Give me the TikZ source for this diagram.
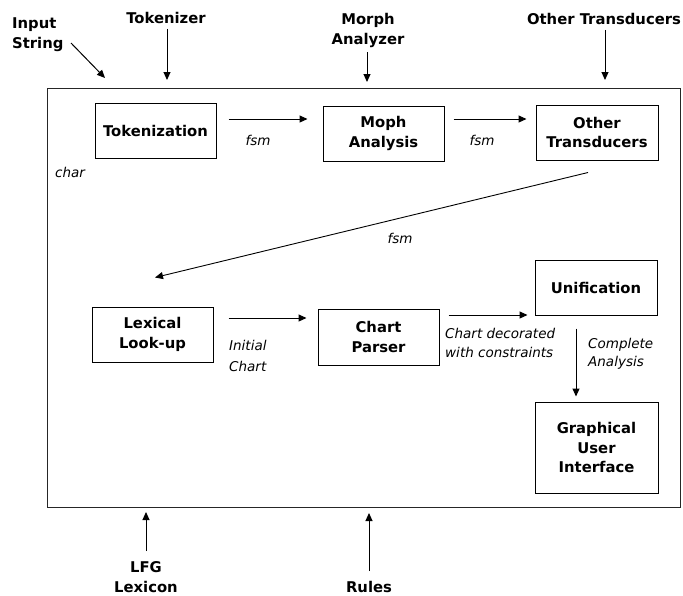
\documentclass[tikz,border=0pt]{standalone}
\usepackage{fontspec}
\setmainfont{DejaVu Sans}
\usetikzlibrary{arrows.meta}
\begin{document}
\begin{tikzpicture}[x=1pt,y=-1pt,
  box/.style={draw, line width=1pt, align=center, inner sep=0pt,
    font=\bfseries\fontsize{14.8}{19.5}\selectfont},
  lbl/.style={align=center, inner sep=0pt,
    font=\bfseries\fontsize{14.8}{20}\selectfont},
  itl/.style={align=left, inner sep=0pt,
    font=\itshape\fontsize{13.5}{19}\selectfont},
  arr/.style={line width=1pt, -{Triangle[length=8pt,width=7pt]}}]
\useasboundingbox (0,0) rectangle (683,595);
% frame
\draw[line width=0.9pt, black!85] (47,88) rectangle (680,507);
% boxes
\node[box, minimum width=121pt, minimum height=55pt] (tok) at (155.5,130.5) {Tokenization};
\node[box, minimum width=121pt, minimum height=55pt] (moph) at (383.5,133.5) {Moph\\Analysis};
\node[box, minimum width=122pt, minimum height=55pt] (oth) at (597,132.5) {Other\\Transducers};
\node[box, minimum width=121pt, minimum height=55pt] (lex) at (152.5,334.5) {Lexical\\Look-up};
\node[box, minimum width=121pt, minimum height=56pt] (chp) at (378.5,337) {Chart\\Parser};
\node[box, minimum width=122pt, minimum height=55pt] (uni) at (596,287.5) {Unification};
\node[box, minimum width=123pt, minimum height=91pt] (gui) at (596.5,447.5) {Graphical\\User\\Interface};
% internal arrows
\draw[arr, shorten <=12pt, shorten >=15pt] ([yshift=11.5pt]tok.east) -- ([yshift=11.5pt]tok.east -| moph.west);
\draw[arr, shorten <=9pt, shorten >=9pt] ([yshift=14.5pt]moph.east) -- ([yshift=14.5pt]moph.east -| oth.west);
\draw[line width=0.9pt, -{Triangle[length=8pt,width=7pt]}] ([xshift=-9pt,yshift=-12pt]oth.south) -- ([xshift=2.5pt,yshift=29pt]lex.north);
\draw[arr, shorten <=15pt, shorten >=11pt] ([yshift=16.5pt]lex.east) -- ([yshift=16.5pt]lex.east -| chp.west);
\draw[arr, shorten <=9pt, shorten >=7pt] ([yshift=22pt]chp.east) -- ([yshift=22pt]chp.east -| uni.west);
\draw[arr, shorten <=13pt, shorten >=5pt] ([xshift=-20pt]uni.south) -- ([xshift=-20pt]uni.south |- gui.north);
% internal labels
\node[itl] (f1) at (258,140) {fsm};
\node[itl] (f2) at (482,140) {fsm};
\node[itl] (f3) at (400,238) {fsm};
\node[itl] (ch) at (70,172) {char};
\node[itl, anchor=west, font=\itshape\fontsize{13.5}{21}\selectfont] (ic) at (229,356) {Initial\\Chart};
\node[itl, anchor=west] (cd) at (445,342.5) {Chart decorated\\with constraints};
\node[itl, anchor=west, font=\itshape\fontsize{13.5}{17.5}\selectfont] (ca) at (588,354) {Complete\\Analysis};
% external inputs
\node[lbl, align=left, anchor=west] (ins) at (12,35) {Input\\String};
\coordinate (ins1) at (71,43);
\coordinate (ins2) at (105,78);
\draw[arr] (ins1) -- (ins2);
\node[lbl] (tkz) at (166,18) {Tokenizer};
\coordinate (tkz2) at (167,80);
\draw[arr] (tkz.south -| tkz2) ++(0,5) -- (tkz2);
\node[lbl] (mza) at (368,30) {Morph\\Analyzer};
\coordinate (mza2) at (367,82);
\draw[arr] (mza.south -| mza2) ++(0,5) -- (mza2);
\node[lbl] (otr) at (604,19) {Other Transducers};
\coordinate (otr2) at (605,80);
\draw[arr] (otr.south -| otr2) ++(0,5) -- (otr2);
\node[lbl] (lfg) at (146,577) {LFG\\Lexicon};
\coordinate (lfg2) at (146,512);
\draw[arr] (lfg.north -| lfg2) ++(0,-10) -- (lfg2);
\node[lbl] (rul) at (369,587) {Rules};
\coordinate (rul2) at (369,513);
\draw[arr] (rul.north -| rul2) ++(0,-10) -- (rul2);
\end{tikzpicture}
\end{document}
